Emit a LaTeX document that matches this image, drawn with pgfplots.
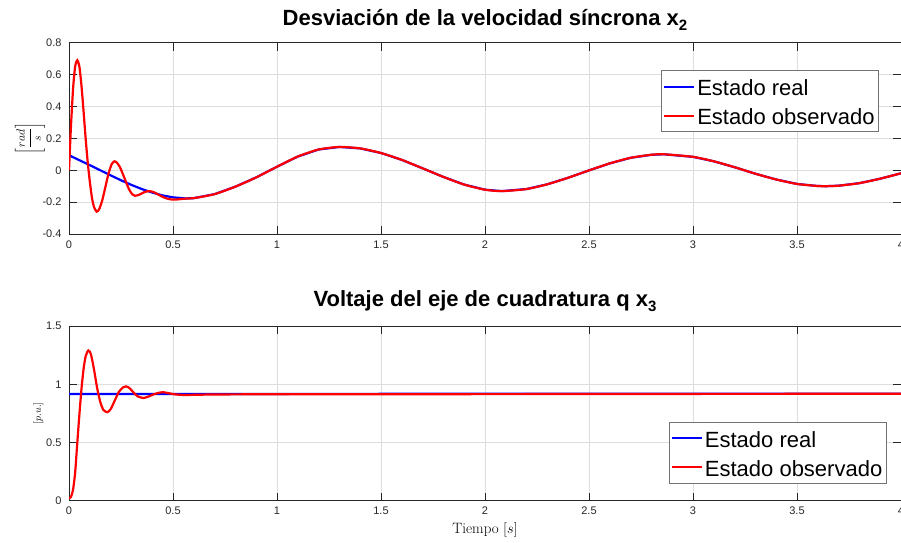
\documentclass[border=0pt]{standalone}
\usepackage{fontspec}
\setsansfont{Liberation Sans}
\usepackage{pgfplots}
\pgfplotsset{compat=1.18}

\definecolor{axgray}{gray}{0.15}
\definecolor{gridgray}{gray}{0.87}

% short line samples for the legend keys
\pgfplotsset{legend image code/.code={\draw[#1] (0pt,0pt) -- (30pt,0pt);}}

\pgfplotsset{
  matlab/.style={
    scale only axis, width=832pt,
    xmin=0, xmax=4, xtick={0,0.5,1,1.5,2,2.5,3,3.5,4},
    grid=major, grid style={gridgray, line width=0.6pt},
    axis line style={axgray, line width=0.7pt},
    tick style={axgray, line width=0.7pt},
    tick align=inside, major tick length=8pt,
    ticklabel style={font=\sffamily\fontsize{11}{13}\selectfont, text=axgray},
    /pgf/number format/assume math mode=true,
    yticklabel style={xshift=-4pt},
    xticklabel style={yshift=-3pt},
    title style={font=\sffamily\bfseries\fontsize{22}{26}\selectfont, at={(0.5,1)}, anchor=base},
    legend cell align=left,
    legend style={font=\sffamily\fontsize{22}{26}\selectfont, draw=black!55, line width=0.8pt,
      inner xsep=2pt, inner ysep=2pt, row sep=1.3pt,
      nodes={inner xsep=2pt, inner ysep=2pt, text height=21pt, text depth=2.7pt}},
  },
  curve/.style={line width=2.2pt, forget plot},
}
\newcommand{\sub}[1]{\raisebox{-5pt}{\fontsize{15}{15}\selectfont #1}}

\begin{document}
\begin{tikzpicture}
% speed deviation
\begin{axis}[matlab, at={(69pt,308pt)}, anchor=south west, height=191.3pt,
  ymin=-0.4, ymax=0.8, ytick={-0.4,-0.2,0,0.2,0.4,0.6,0.8},
  title={Desviación de la velocidad síncrona x\sub{2}},
  title style={yshift=11.7pt},
  ylabel={$\left[\displaystyle\frac{rad}{s}\right]$},
  ylabel style={at={(axis description cs:-0.0469,0.5)}, anchor=center, font=\fontsize{12}{14}\selectfont},
  legend style={at={(0.9736,0.855)}, anchor=north east},
]
\addplot[blue, curve] coordinates {
(0,0.094)(0.05,0.063)(0.1,0.032)(0.15,0.0)(0.2,-0.032)(0.25,-0.063)(0.3,-0.092)
(0.35,-0.118)(0.4,-0.140)(0.45,-0.158)(0.5,-0.170)(0.56,-0.177)(0.6,-0.175)
(0.7,-0.150)(0.8,-0.103)(0.9,-0.045)(1.0,0.022)(1.1,0.086)(1.2,0.130)(1.3,0.146)
(1.4,0.137)(1.5,0.108)(1.6,0.065)(1.7,0.012)(1.75,-0.015)(1.8,-0.042)(1.9,-0.090)
(2.0,-0.122)(2.08,-0.131)(2.2,-0.118)(2.3,-0.088)(2.4,-0.047)(2.5,-0.001)(2.6,0.043)
(2.7,0.078)(2.8,0.097)(2.86,0.100)(3.0,0.084)(3.1,0.056)(3.2,0.019)(3.3,-0.022)
(3.4,-0.058)(3.5,-0.086)(3.6,-0.099)(3.64,-0.100)(3.7,-0.097)(3.8,-0.081)
(3.9,-0.053)(4.0,-0.019)
};
\addplot[red, curve, smooth, tension=0.4] coordinates {
(0,0)(0.005,0.15)(0.01,0.29)(0.02,0.52)(0.03,0.655)(0.04,0.69)(0.05,0.65)(0.06,0.53)
(0.07,0.37)(0.08,0.20)(0.09,0.05)(0.1,-0.07)(0.11,-0.17)(0.12,-0.23)(0.133,-0.26)
(0.145,-0.245)(0.16,-0.188)(0.175,-0.105)(0.19,-0.021)(0.205,0.038)(0.218,0.056)
(0.23,0.048)(0.245,0.019)(0.26,-0.027)(0.275,-0.077)(0.29,-0.123)(0.305,-0.152)
(0.317,-0.160)(0.335,-0.155)(0.353,-0.143)(0.37,-0.134)(0.389,-0.131)(0.41,-0.139)
(0.43,-0.153)(0.45,-0.167)(0.47,-0.177)(0.49,-0.183)(0.51,-0.184)(0.53,-0.182)
(0.56,-0.178)(0.6,-0.175)
(0.7,-0.150)(0.8,-0.103)(0.9,-0.045)(1.0,0.022)(1.1,0.086)(1.2,0.130)(1.3,0.146)
(1.4,0.137)(1.5,0.108)(1.6,0.065)(1.7,0.012)(1.75,-0.015)(1.8,-0.042)(1.9,-0.090)
(2.0,-0.122)(2.08,-0.131)(2.2,-0.118)(2.3,-0.088)(2.4,-0.047)(2.5,-0.001)(2.6,0.043)
(2.7,0.078)(2.8,0.097)(2.86,0.100)(3.0,0.084)(3.1,0.056)(3.2,0.019)(3.3,-0.022)
(3.4,-0.058)(3.5,-0.086)(3.6,-0.099)(3.64,-0.100)(3.7,-0.097)(3.8,-0.081)
(3.9,-0.053)(4.0,-0.019)
};
\addlegendimage{line width=2pt, color=blue}
\addlegendentry{Estado real}
\addlegendimage{line width=2pt, color=red}
\addlegendentry{Estado observado}
\end{axis}

% quadrature-axis voltage
\begin{axis}[matlab, at={(69pt,41.3pt)}, anchor=south west, height=174.7pt,
  ymin=0, ymax=1.5, ytick={0,0.5,1,1.5},
  title={Voltaje del eje de cuadratura q x\sub{3}},
  title style={yshift=14pt},
  xlabel={Tiempo $[s]$},
  xlabel style={at={(axis description cs:0.5,0)}, anchor=base, yshift=-32.6pt, font=\fontsize{15}{17}\selectfont},
  ylabel={$[p.u.]$},
  ylabel style={at={(axis description cs:-0.0369,0.5)}, anchor=center, font=\fontsize{10}{12}\selectfont},
  legend style={at={(0.9828,0.0996)}, anchor=south east},
]
\addplot[blue, curve] coordinates {(0,0.917)(1,0.917)(2,0.918)(3,0.918)(4,0.919)};
\addplot[red, curve, smooth, tension=0.4] coordinates {
(0,0.02)(0.01,0.035)(0.02,0.10)(0.03,0.25)(0.04,0.50)(0.05,0.74)(0.06,0.96)(0.07,1.13)
(0.08,1.24)(0.093,1.29)(0.105,1.26)(0.12,1.13)(0.135,0.97)(0.15,0.85)(0.165,0.78)
(0.184,0.76)(0.2,0.785)(0.22,0.86)(0.24,0.935)(0.26,0.973)(0.274,0.982)(0.29,0.968)
(0.31,0.93)(0.33,0.896)(0.357,0.882)(0.38,0.893)(0.41,0.915)(0.435,0.928)(0.455,0.931)
(0.48,0.923)(0.51,0.913)(0.55,0.908)(0.6,0.909)(0.7,0.912)(1,0.914)(2,0.915)(3,0.917)(4,0.918)
};
\addlegendimage{line width=2pt, color=blue}
\addlegendentry{Estado real}
\addlegendimage{line width=2pt, color=red}
\addlegendentry{Estado observado}
\end{axis}
\pgfresetboundingbox
\useasboundingbox (0,0) rectangle (901pt,542pt);
\end{tikzpicture}
\end{document}
